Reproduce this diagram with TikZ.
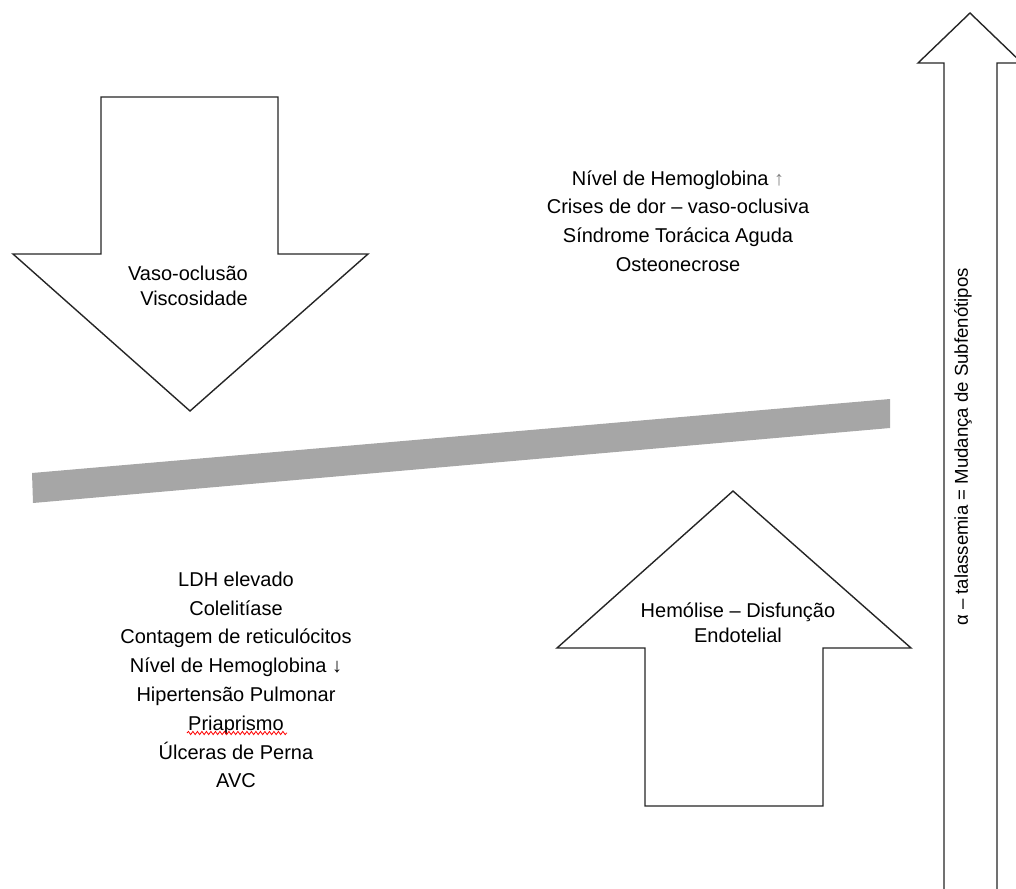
\documentclass[tikz,border=0pt]{standalone}
\usepackage{fontspec}
\setmainfont{Liberation Sans}
\usetikzlibrary{decorations.pathmorphing}
\definecolor{barfill}{HTML}{A6A6A6}
\definecolor{outline}{HTML}{262626}
\tikzset{
  blockarrow/.style={draw=outline, line width=1.4pt, fill=white, line join=miter},
  listtext/.style={align=center, inner sep=0pt, font=\fontsize{20}{28.8}\selectfont},
  arrowtext/.style={inner sep=0pt, font=\fontsize{20}{25}\selectfont},
}
\begin{document}
\begin{tikzpicture}[x=1pt, y=-1pt]
  \useasboundingbox (0,0) rectangle (1016,888);
  \clip (0,0) rectangle (1016,888);

  % downward block arrow
  \draw[blockarrow] (101,97) -- (278,97) -- (278,254) -- (368,254) -- (190,411)
     -- (13,254) -- (101,254) -- cycle;
  \node[arrowtext, align=right, anchor=east] (vaso) at (248,286)
     {Vaso-oclusão\\Viscosidade};

  % tilted grey balance bar
  \fill[barfill] (32,473) -- (890,399) -- (890,428) -- (33,503) -- cycle;

  % upward block arrow
  \draw[blockarrow] (645,806) -- (645,648) -- (557,648) -- (733,491) -- (911,648)
     -- (823,648) -- (823,806) -- cycle;
  \node[arrowtext, align=center] (hemo) at (738,623)
     {Hemólise – Disfunção\\Endotelial};

  % tall arrow on the right edge
  \draw[blockarrow] (944,900) -- (944,63) -- (918,63) -- (970,13) -- (1022,63)
     -- (997,63) -- (997,900);
  \node[rotate=90, inner sep=0pt, font=\fontsize{18.6}{22}\selectfont] (alfa)
     at (963,447) {α – talassemia = Mudança de Subfenótipos};

  % upper list
  \node[listtext] (sup) at (678,221)
     {Nível de Hemoglobina {\color{gray}↑}\\
      Crises de dor – vaso-oclusiva\\
      Síndrome Torácica Aguda\\
      Osteonecrose};

  % lower list
  \node[listtext] (inf) at (236,680)
     {LDH elevado\\
      Colelitíase\\
      Contagem de reticulócitos\\
      Nível de Hemoglobina ↓\\
      Hipertensão Pulmonar\\
      Priaprismo\\
      Úlceras de Perna\\
      AVC};

  % spell-check squiggle under one word
  \draw[red, line width=0.8pt, decorate,
        decoration={snake, amplitude=1.6pt, segment length=4.5pt}]
     (187,733) -- (287,733);
\end{tikzpicture}
\end{document}
